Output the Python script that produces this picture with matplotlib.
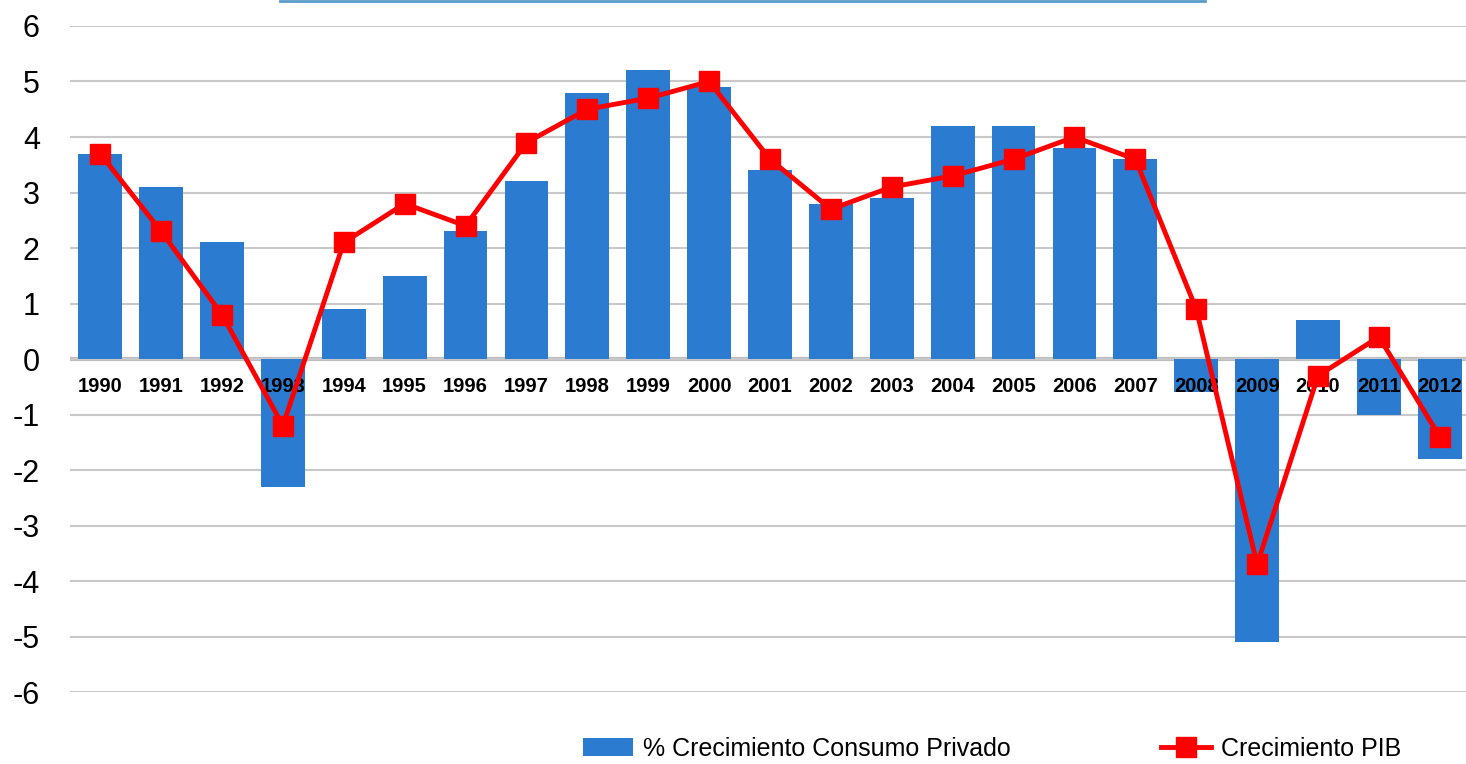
import numpy as np
import matplotlib
matplotlib.use("Agg")
from matplotlib import pyplot as plt
from matplotlib.lines import Line2D

plt.rcParams['font.family'] = ['Liberation Sans', 'DejaVu Sans']

# data
years = [str(y) for y in range(1990, 2013)]
consumo = [3.7, 3.1, 2.1, -2.3, 0.9, 1.5, 2.3, 3.2, 4.8, 5.2, 4.9, 3.4, 2.8,
           2.9, 4.2, 4.2, 3.8, 3.6, -0.6, -5.1, 0.7, -1.0, -1.8]
pib = [3.7, 2.3, 0.8, -1.2, 2.1, 2.8, 2.4, 3.9, 4.5, 4.7, 5.0, 3.6, 2.7,
       3.1, 3.3, 3.6, 4.0, 3.6, 0.9, -3.7, -0.3, 0.4, -1.4]
yticks = list(range(-6, 7))

fig = plt.figure(figsize=(14.66, 7.64), dpi=100)
ax = fig.add_axes([0.048, 0.094, 0.952, 0.872])

x = np.arange(len(years))
bars = ax.bar(x, consumo, width=0.72, color='#2b7bd0', zorder=2,
              label='% Crecimiento Consumo Privado')
line, = ax.plot(x, pib, color='#ff0000', lw=3.5, marker='s', markersize=15,
                zorder=4, label='Crecimiento PIB')

# year labels sitting just under the zero line
for xi, yr in zip(x, years):
    ax.text(xi, -0.5, yr, ha='center', va='center', fontsize=14.5,
            fontweight='bold', zorder=3)

ax.set_ylim(-6, 6)
ax.set_xlim(-0.49, 22.43)
ax.set_yticks(yticks)
ax.set_yticklabels([str(t) for t in yticks], fontsize=22)
ax.set_xticks([])
ax.tick_params(axis='y', length=0, pad=22)
for s in ax.spines.values():
    s.set_visible(False)
ax.yaxis.grid(True, color='#c8c8c8', lw=1.5, zorder=0)
ax.axhline(0, color='#bdbdbd', lw=3, zorder=1)

# bit of the title box border showing at the top edge
fig.add_artist(Line2D([280 / 1466, 1205 / 1466], [0.999, 0.999],
                      color='#5b9bc8', lw=2))

fig.legend([bars, line], ['% Crecimiento Consumo Privado', 'Crecimiento PIB'],
           loc='center', bbox_to_anchor=(0.677, 0.02), ncol=2,
           frameon=False, fontsize=18, columnspacing=6.0, handlelength=2.0,
           handletextpad=0.4)

fig.savefig('out.png', dpi=100)
